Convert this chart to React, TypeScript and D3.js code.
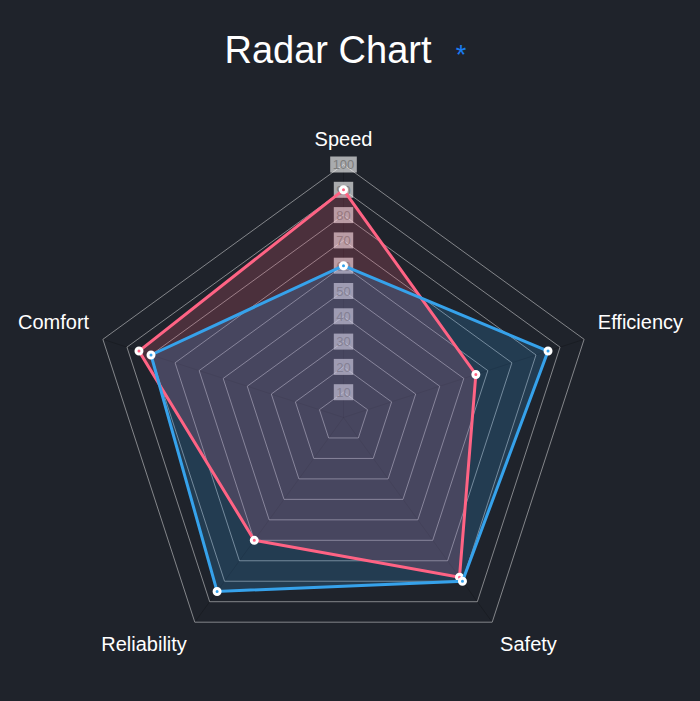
import React from "react";
import * as d3 from "d3";

const categories = ["Speed", "Efficiency", "Safety", "Reliability", "Comfort"];
const blueValues = [60, 85, 80, 85, 80];
const redValues = [90, 55, 78, 60, 85];
const tickValues = [10, 20, 30, 40, 50, 60, 70, 80, 90, 100];

const W = 700;
const H = 701;
const CX = 343.5;
const CY = 417.5;
const R = 253;
const BG = "#1f232b";
const BLUE = "rgb(54,162,235)";
const RED = "rgb(255,99,132)";
const FONT = "'Liberation Sans', Arial, Helvetica, sans-serif";

export default function App() {
  const r = d3.scaleLinear().domain([0, 100]).range([0, R]);
  const angle = d3
    .scaleLinear()
    .domain([0, categories.length])
    .range([0, 2 * Math.PI]);

  const radial = d3
    .lineRadial<number>()
    .angle((_, i) => angle(i))
    .radius((d) => r(d))
    .curve(d3.curveLinearClosed);

  const ring = (v: number) => radial(categories.map(() => v)) || "";

  const labelPos = categories.map((c, i) => {
    const a = angle(i);
    const sx = Math.sin(a);
    const cy = Math.cos(a);
    const px = CX + sx * (R + 16);
    const py = CY - cy * (R + 16);
    let anchor = "middle";
    if (sx > 0.1) anchor = "start";
    else if (sx < -0.1) anchor = "end";
    let by = py;
    if (cy > 0.9) by = py - 3;
    else if (cy > 0) by = py - 5;
    else by = py + 16;
    let bx = px;
    if (anchor === "start") bx = px - 1.5;
    else if (anchor === "end") bx = px + 1.5;
    return { c, x: bx, y: by, anchor };
  });

  const series = [
    { values: redValues, color: RED, fill: "rgba(255,99,132,0.2)" },
    { values: blueValues, color: BLUE, fill: "rgba(54,162,235,0.2)" },
  ];

  return (
    <svg
      width={W}
      height={H}
      style={{ position: "absolute", left: 0, top: 0, background: BG, display: "block" }}
    >
      <rect x={0} y={0} width={W} height={H} fill={BG} />
      <text
        x={328}
        y={63}
        textAnchor="middle"
        fill="#ffffff"
        fontFamily={FONT}
        fontSize={38}
        fontWeight={300}
      >
        Radar Chart
      </text>
      <text
        x={461}
        y={64}
        textAnchor="middle"
        fill="#1a7cf0"
        fontFamily={FONT}
        fontSize={27}
      >
        *
      </text>

      <g transform={`translate(${CX},${CY})`}>
        {categories.map((c, i) => {
          const a = angle(i);
          return (
            <line
              key={c}
              x1={0}
              y1={0}
              x2={Math.sin(a) * R}
              y2={-Math.cos(a) * R}
              stroke="rgba(0,0,0,0.18)"
              strokeWidth={1}
            />
          );
        })}
        {tickValues.map((t) => (
          <path
            key={t}
            d={ring(t)}
            fill="none"
            stroke="rgba(255,255,255,0.45)"
            strokeWidth={1}
          />
        ))}
      </g>

      <g fontFamily={FONT} fontSize={13}>
        {tickValues.map((t) => {
          const label = String(t);
          const w = label.length * 7.2 + 5;
          const h = 16;
          const y = CY - r(t);
          return (
            <g key={t}>
              <rect
                x={CX - w / 2}
                y={y - h / 2}
                width={w}
                height={h}
                fill="rgba(255,255,255,0.62)"
              />
              <text x={CX} y={y + 4.8} textAnchor="middle" fill="#7e7e7e">
                {label}
              </text>
            </g>
          );
        })}
      </g>

      <g transform={`translate(${CX},${CY})`}>
        {series.map((s, si) => (
          <path
            key={"a" + si}
            d={radial(s.values) || ""}
            fill={s.fill}
            stroke="none"
          />
        ))}
      </g>
      <g transform={`translate(${CX},${CY})`}>
        {series.map((s, si) => (
          <g key={"s" + si}>
            <path
              d={radial(s.values) || ""}
              fill="none"
              stroke={s.color}
              strokeWidth={3}
              strokeLinejoin="miter"
            />
            {s.values.map((v, i) => {
              const a = angle(i);
              return (
                <circle
                  key={i}
                  cx={Math.sin(a) * r(v)}
                  cy={-Math.cos(a) * r(v)}
                  r={3}
                  fill={s.color}
                  stroke="#ffffff"
                  strokeWidth={3}
                />
              );
            })}
          </g>
        ))}
      </g>

      <g fontFamily={FONT} fontSize={20} fill="#ffffff">
        {labelPos.map((l) => (
          <text key={l.c} x={l.x} y={l.y} textAnchor={l.anchor as any}>
            {l.c}
          </text>
        ))}
      </g>
    </svg>
  );
}
